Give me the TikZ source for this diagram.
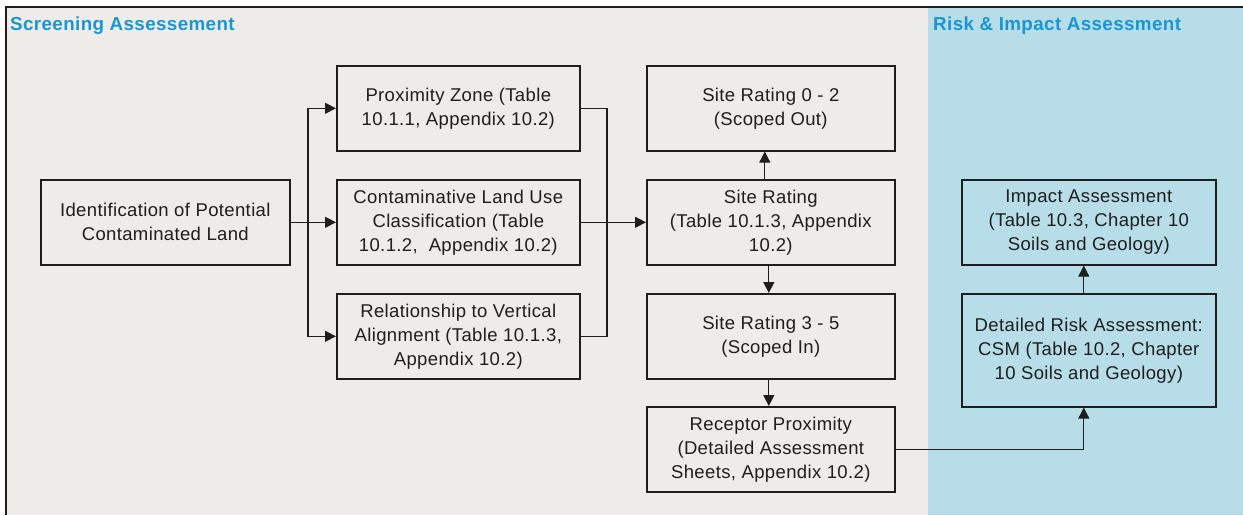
\documentclass[tikz,border=0pt]{standalone}
\usepackage{fontspec}
\setmainfont[LetterSpace=2]{Liberation Sans}
\usetikzlibrary{arrows.meta}
\definecolor{paper}{HTML}{EEECE8}
\definecolor{riskbg}{HTML}{B7DDE8}
\definecolor{headblue}{HTML}{1B95D3}
\definecolor{ink}{HTML}{1E1E1E}
\tikzset{
  flowbox/.style={draw=ink, line width=1.6pt, anchor=north west, inner sep=0pt,
    align=center, text=ink, font=\fontsize{18.5}{24}\selectfont},
  arr/.style={draw=ink, line width=1.2pt, -{Triangle[length=11pt,width=11pt]}},
  link/.style={draw=ink, line width=1.2pt},
  header/.style={anchor=base west, inner sep=0pt, text=headblue,
    font=\fontsize{18.8}{22}\selectfont\bfseries}
}
\begin{document}
\begin{tikzpicture}[x=1pt, y=-1pt]
  \useasboundingbox (0,0) rectangle (1243,515);
  % panels
  \fill[white] (0,0) rectangle (1243,515);
  \fill[paper] (6,7) rectangle (928,515);
  \fill[riskbg] (928,7) rectangle (1243,515);
  \draw[ink, line width=2pt] (6,515) -- (6,7) -- (1243,7);
  % panel titles
  \node[header] (hscreen) at (10,30) {Screening Assessement};
  \node[header] (hrisk) at (933,30) {Risk \& Impact Assessment};
  % screening boxes
  \node[flowbox, minimum width=249pt, minimum height=85pt] (ident) at (40,179)
    {Identification of Potential\\Contaminated Land};
  \node[flowbox, minimum width=243pt, minimum height=85pt] (prox) at (336,65)
    {Proximity Zone (Table\\10.1.1, Appendix 10.2)};
  \node[flowbox, minimum width=243pt, minimum height=85pt] (contam) at (336,179)
    {Contaminative Land Use\\Classification (Table\\10.1.2,\ \ Appendix 10.2)};
  \node[flowbox, minimum width=243pt, minimum height=85pt] (rel) at (336,293)
    {Relationship to Vertical\\Alignment (Table 10.1.3,\\Appendix 10.2)};
  \node[flowbox, minimum width=248pt, minimum height=85pt] (sr02) at (646,65)
    {Site Rating 0 - 2\\(Scoped Out)};
  \node[flowbox, minimum width=248pt, minimum height=85pt] (sr) at (646,179)
    {Site Rating\\(Table 10.1.3, Appendix\\10.2)};
  \node[flowbox, minimum width=248pt, minimum height=85pt] (sr35) at (646,293)
    {Site Rating 3 - 5\\(Scoped In)};
  \node[flowbox, minimum width=248pt, minimum height=85pt] (rec) at (646,406)
    {Receptor Proximity\\(Detailed Assessment\\Sheets, Appendix 10.2)};
  % risk boxes
  \node[flowbox, minimum width=254pt, minimum height=85pt] (imp) at (961,179)
    {Impact Assessment\\(Table 10.3, Chapter 10\\Soils and Geology)};
  \node[flowbox, minimum width=254pt, minimum height=113pt] (det) at (961,293)
    {Detailed Risk Assessment:\\CSM (Table 10.2, Chapter\\10 Soils and Geology)};
  % fan out from identification
  \coordinate (fanL) at (308,0 |- ident.east);
  \draw[arr] (ident.east) -- (contam.west);
  \draw[arr] (fanL) |- (prox.west);
  \draw[arr] (fanL) |- (rel.west);
  % gather into site rating
  \coordinate (fanR) at (607,0 |- contam.east);
  \draw[link] (prox.east) -| (fanR);
  \draw[link] (rel.east) -| (fanR);
  \draw[arr] (contam.east) -- (sr.west);
  % site rating outcomes
  \draw[arr] ([xshift=-6pt]sr.north) -- ([xshift=-6pt]sr02.south);
  \draw[arr] ([xshift=-2pt]sr.south) -- ([xshift=-2pt]sr35.north);
  \draw[arr] ([xshift=-2pt]sr35.south) -- ([xshift=-2pt]rec.north);
  % risk and impact
  \draw[arr] (rec.east) -| ([xshift=-5pt]det.south);
  \draw[arr] ([xshift=-5pt]det.north) -- ([xshift=-5pt]imp.south);
\end{tikzpicture}
\end{document}
